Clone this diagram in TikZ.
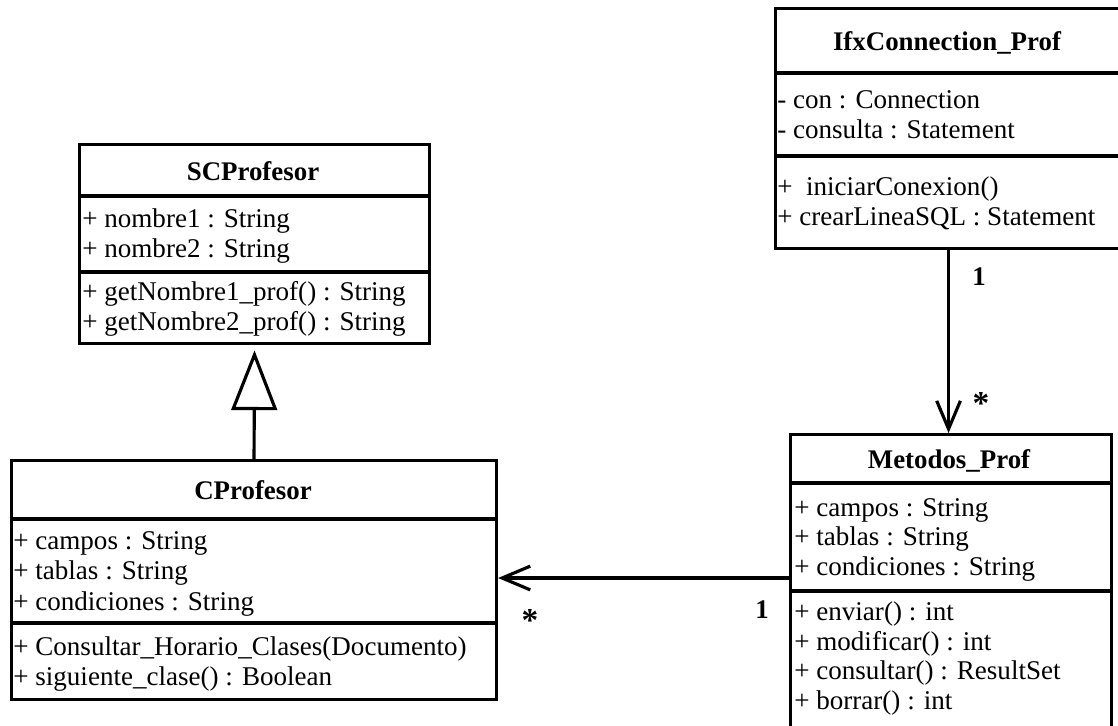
\documentclass[tikz,border=0pt]{standalone}
\usepackage{fontspec}
\setmainfont{Liberation Serif}
\usetikzlibrary{arrows.meta}

\begin{document}
\begin{tikzpicture}[
  x=0.02cm, y=-0.02cm,
  cls/.style={draw, line width=1.8pt, anchor=north west, inner sep=0pt},
  sep/.style={line width=1.8pt},
  ttl/.style={anchor=base, inner sep=0pt, font=\fontsize{15.3}{17}\selectfont\bfseries},
  mem/.style={anchor=base west, inner sep=0pt, font=\fontsize{15.4}{17}\selectfont},
  arr/.style={-{Straight Barb[length=16pt,width=13.5pt]}, line width=1.8pt},
  inh/.style={-{Triangle[open,length=34pt,width=26pt]}, line width=1.8pt},
  mult/.style={anchor=base, inner sep=0pt, font=\fontsize{15.3}{17}\selectfont\bfseries}
]
\useasboundingbox (0,0) rectangle (1118,725);
\clip (0,0) rectangle (1118,725);

%% Class frames
\node[cls, minimum width=6.92cm, minimum height=4.8cm]  (ifx) at (774,7)   {};
\node[cls, minimum width=7.0cm,  minimum height=3.98cm] (scp) at (78,143)  {};
\node[cls, minimum width=9.7cm,  minimum height=4.78cm] (cpr) at (10,459)  {};
\node[cls, minimum width=6.42cm, minimum height=6.24cm] (met) at (789,433) {};

%% Compartment lines
\draw[sep] (ifx.west |- 0,73)  -- (ifx.east |- 0,73);
\draw[sep] (ifx.west |- 0,156) -- (ifx.east |- 0,156);
\draw[sep] (scp.west |- 0,196) -- (scp.east |- 0,196);
\draw[sep] (scp.west |- 0,272) -- (scp.east |- 0,272);
\draw[sep] (cpr.west |- 0,519) -- (cpr.east |- 0,519);
\draw[sep] (cpr.west |- 0,623) -- (cpr.east |- 0,623);
\draw[sep] (met.west |- 0,483) -- (met.east |- 0,483);
\draw[sep] (met.west |- 0,591) -- (met.east |- 0,591);

%% IfxConnection_Prof
\node[ttl] (ifxT)  at (947,50)  {IfxConnection\_Prof};
\node[mem] (ifxA1) at (777,108) {- con : Connection};
\node[mem] (ifxA2) at (777,138) {- consulta : Statement};
\node[mem] (ifxM1) at (777,195) {+~ iniciarConexion()};
\node[mem] (ifxM2) at (777,225) {+ crearLineaSQL : Statement};

%% SCProfesor
\node[ttl] (scpT)  at (253,180) {SCProfesor};
\node[mem] (scpA1) at (82,227)  {+ nombre1 : String};
\node[mem] (scpA2) at (82,257)  {+ nombre2 : String};
\node[mem] (scpM1) at (82,300)  {+ getNombre1\_prof() : String};
\node[mem] (scpM2) at (82,330)  {+ getNombre2\_prof() : String};

%% CProfesor
\node[ttl] (cprT)  at (253,499) {CProfesor};
\node[mem] (cprA1) at (13,549)  {+ campos : String};
\node[mem] (cprA2) at (13,579)  {+ tablas : String};
\node[mem] (cprA3) at (13,610)  {+ condiciones : String};
\node[mem] (cprM1) at (13,655)  {+ Consultar\_Horario\_Clases(Documento)};
\node[mem] (cprM2) at (13,685)  {+ siguiente\_clase() : Boolean};

%% Metodos_Prof
\node[ttl] (metT)  at (949,468) {Metodos\_Prof};
\node[mem] (metA1) at (794,516) {+ campos : String};
\node[mem] (metA2) at (794,545) {+ tablas : String};
\node[mem] (metA3) at (794,575) {+ condiciones : String};
\node[mem] (metM1) at (794,620) {+ enviar() : int};
\node[mem] (metM2) at (794,650) {+ modificar() : int};
\node[mem] (metM3) at (794,679) {+ consultar() : ResultSet};
\node[mem] (metM4) at (794,709) {+ borrar() : int};

%% Relations
\draw[inh, shorten >=3pt] (cpr.north) -- (scp.south);
\draw[arr] (ifx.south) -- (ifx.south |- met.north);
\draw[arr] (met.west |- 0,578) -- (cpr.east |- 0,578);

%% Multiplicities
\node[mult] (m1) at (979,285) {1};
\node[mult, font=\fontsize{19}{20}\selectfont\bfseries] (m2) at (981,414) {*};
\node[mult, font=\fontsize{19}{20}\selectfont\bfseries] (m3) at (530,631) {*};
\node[mult] (m4) at (762,618) {1};

\end{tikzpicture}
\end{document}
